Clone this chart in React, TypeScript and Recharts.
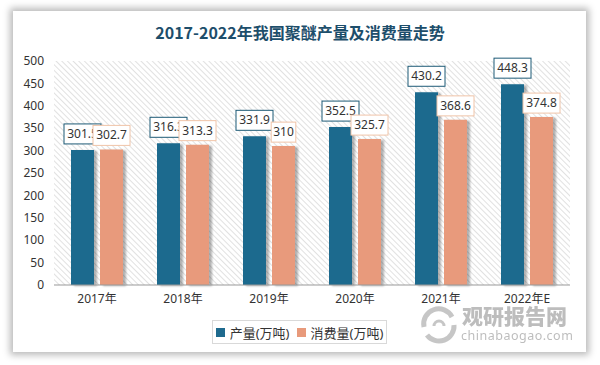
import { BarChart, Bar, XAxis, YAxis, CartesianGrid, LabelList } from 'recharts';

const years = ['2017年', '2018年', '2019年', '2020年', '2021年', '2022年E'];
const output = [301.5, 316.3, 331.9, 352.5, 430.2, 448.3];
const consumption = [302.7, 313.3, 310, 325.7, 368.6, 374.8];
const yTicks = [0, 50, 100, 150, 200, 250, 300, 350, 400, 450, 500];

const data = years.map((year, i) => ({ year, output: output[i], consumption: consumption[i] }));

const BLUE = '#1e6a8e';
const ORANGE = '#e89a7b';
const FONT = "'Noto Sans', 'Noto Sans CJK SC', sans-serif";

const boxLabel = (stroke: string, gap: number) => (props: any) => {
  const { x, y, width, value } = props;
  const text = String(value);
  const w = text.length * 6.2 + 6;
  const h = 20;
  const cx = x + width / 2;
  const bottom = y - gap;
  return (
    <g>
      <rect x={cx - w / 2} y={bottom - h} width={w} height={h} fill="#fff" stroke={stroke} strokeWidth={1} />
      <text x={cx} y={bottom - h / 2 + 4} textAnchor="middle" fontSize={12} fill="#333" fontFamily={FONT}>{text}</text>
    </g>
  );
};

export default function App() {
  return (
    <div style={{ position: 'absolute', left: 0, top: 0, width: 600, height: 365, background: '#fff', overflow: 'hidden' }}>
      <div style={{
        position: 'absolute', left: 13, top: 11, width: 573, height: 341,
        background: '#fff', boxShadow: '0 0 7px 3px rgba(0,0,0,0.28)',
      }} />
      <div style={{
        position: 'absolute', left: 0, top: 20, width: 600, textAlign: 'center',
        fontSize: 16, fontWeight: 700, color: '#1d4e6b', fontFamily: "'Noto Sans CJK SC', sans-serif",
      }}>2017-2022年我国聚醚产量及消费量走势</div>
      <div style={{ position: 'absolute', left: 0, top: 0 }}>
        <BarChart width={600} height={365} data={data} barSize={23} barGap={6}
          margin={{ top: 61, right: 30, bottom: 50, left: 4 }}>
          <defs>
            <pattern id="hatch" width="4" height="4" patternUnits="userSpaceOnUse" patternTransform="rotate(-45)">
              <rect width="4" height="4" fill="#fff" />
              <line x1="0" y1="0" x2="0" y2="4" stroke="#d2d2d2" strokeWidth={1.3} />
            </pattern>
            <filter id="barShadow" x="-30%" y="-10%" width="160%" height="120%">
              <feDropShadow dx={3} dy={1} stdDeviation={1.2} floodColor="#000" floodOpacity={0.3} />
            </filter>
          </defs>
          <CartesianGrid horizontal={false} vertical={false} fill="url(#hatch)" />
          <XAxis dataKey="year" height={30} tickSize={0} tickMargin={9} axisLine={{ stroke: '#999' }}
            tick={{ fontSize: 12, fill: '#333', fontFamily: FONT }} />
          <YAxis width={50} domain={[0, 500]} ticks={yTicks} tickSize={0} tickMargin={10} axisLine={false}
            tick={{ fontSize: 12, fill: '#333', fontFamily: FONT }} />
          <Bar dataKey="output" name="产量(万吨)" fill={BLUE} isAnimationActive={false} filter="url(#barShadow)">
            <LabelList dataKey="output" content={boxLabel('#1d5a76', 6)} />
          </Bar>
          <Bar dataKey="consumption" name="消费量(万吨)" fill={ORANGE} isAnimationActive={false} filter="url(#barShadow)">
            <LabelList dataKey="consumption" content={boxLabel('#f0c4a8', 4)} />
          </Bar>
        </BarChart>
      </div>
      <div style={{
        position: 'absolute', left: 212, top: 320, height: 22, width: 173,
        border: '1px solid #d9d9d9', background: '#fff',
        display: 'flex', alignItems: 'center', justifyContent: 'center', gap: 5,
        fontSize: 13, color: '#333', fontFamily: FONT, whiteSpace: 'nowrap',
      }}>
        <span style={{ width: 9, height: 9, background: BLUE, display: 'inline-block' }} />
        <span>产量(万吨)</span>
        <span style={{ width: 9, height: 9, background: ORANGE, display: 'inline-block', marginLeft: 2 }} />
        <span>消费量(万吨)</span>
      </div>
      <div style={{ position: 'absolute', left: 418, top: 304, width: 160, height: 44, pointerEvents: 'none', opacity: 0.55 }}>
        <svg width={42} height={40} style={{ position: 'absolute', left: 0, top: 1 }}>
          <path d="M6 22 A15 15 0 0 1 34 12" fill="none" stroke="#999" strokeWidth={5} />
          <path d="M36 20 A15 15 0 0 1 9 30" fill="none" stroke="#999" strokeWidth={5} />
          <path d="M16 21 A5 5 0 0 1 26 21" fill="none" stroke="#999" strokeWidth={3} />
        </svg>
        <div style={{ position: 'absolute', left: 44, top: 0, fontSize: 21, fontWeight: 900, color: '#888', fontFamily: "'Noto Sans CJK SC', sans-serif", lineHeight: '22px', whiteSpace: 'nowrap' }}>观研报告网</div>
        <div style={{ position: 'absolute', left: 43, top: 24, fontSize: 12.5, lineHeight: '16px', color: '#888', fontFamily: FONT, letterSpacing: 0.5, whiteSpace: 'nowrap' }}>chinabaogao.com</div>
      </div>
    </div>
  );
}
